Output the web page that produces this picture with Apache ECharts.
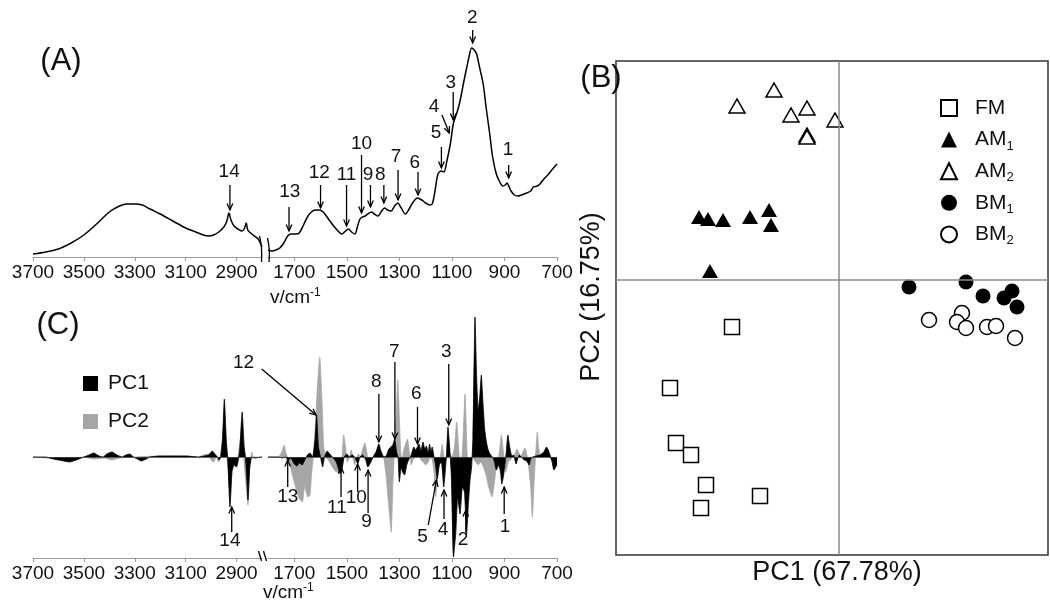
<!DOCTYPE html>
<html>
<head>
<meta charset="utf-8">
<script src="https://cdn.jsdelivr.net/npm/echarts@6/dist/echarts.min.js"></script>
<style>
html,body{margin:0;padding:0;background:#fff;}
#main{width:1050px;height:609px;}
</style>
</head>
<body>
<div id="main"></div>
<script>
// ---------- DATA ----------
const ticksLeft = [3700, 3500, 3300, 3100, 2900];
const ticksRight = [1700, 1500, 1300, 1100, 900, 700];

// (A) mean FTIR spectrum [wavenumber, absorbance (a.u.)]
const specLeft = [[3700,3],[3650,5],[3600,8],[3550,14],[3500,22],[3450,33],[3400,45],[3360,51],[3330,53],[3300,53],[3270,52],[3240,48],[3200,43],[3150,36],[3100,29],[3060,25],[3030,22],[3010,21],[2990,22],[2970,25],[2950,30],[2938,36],[2930,44],[2922,37],[2910,31],[2895,28],[2880,26],[2870,28],[2862,34],[2856,27],[2845,24],[2830,21],[2815,18],[2805,13],[2800,10]];
const specRight = [[1800,7],[1785,6],[1770,7],[1755,9],[1740,14],[1725,21],[1712,23],[1695,23],[1681,24],[1665,32],[1650,40],[1635,45],[1620,47],[1605,47],[1590,45],[1570,38],[1550,31],[1530,25],[1519,23],[1505,26],[1494,28],[1482,25],[1469,23],[1460,30],[1450,38],[1440,40],[1430,41],[1420,43],[1406,45],[1395,43],[1381,41],[1370,45],[1356,49],[1345,47],[1331,46],[1318,51],[1306,54],[1295,50],[1277,43],[1265,47],[1250,54],[1231,59],[1215,57],[1200,54],[1185,52],[1175,53],[1165,65],[1153,83],[1140,86],[1130,85],[1120,95],[1106,113],[1094,134],[1080,145],[1069,156],[1055,175],[1044,189],[1035,200],[1025,209],[1015,207],[1006,203],[995,190],[981,173],[970,150],[956,123],[945,100],[931,83],[918,75],[906,71],[897,72],[890,74],[882,70],[875,66],[862,62],[850,61],[835,62],[815,64],[800,66],[790,70],[775,71],[765,73],[750,78],[735,82],[720,87],[700,93]];

// (C) loadings [wavenumber, loading (a.u.)]
const pc1Left = [[3700,0],[3650,0],[3620,-2],[3580,-4],[3558,-5],[3530,-3],[3500,0],[3480,2],[3462,4],[3440,1],[3425,0],[3410,3],[3390,5],[3370,2],[3350,0],[3335,2],[3320,3],[3305,0],[3290,-2],[3274,-4],[3255,-2],[3240,0],[3200,1],[3100,1],[3050,0],[3010,2],[2995,6],[2985,3],[2975,0],[2968,-3],[2962,0],[2955,20],[2948,58],[2940,15],[2935,0],[2930,-30],[2926,-50],[2918,-15],[2910,-8],[2900,-10],[2893,-3],[2888,5],[2878,45],[2870,10],[2865,0],[2860,-20],[2855,-43],[2848,-10],[2840,0],[2830,-1],[2800,0]];
const pc2Left = [[3700,0],[3650,-1],[3600,-2],[3550,-1],[3500,0],[3460,-2],[3420,-1],[3390,-3],[3360,-1],[3300,0],[3200,1],[3100,1],[3050,0],[3030,2],[3010,3],[3000,-3],[2990,-5],[2980,0],[2970,-5],[2960,8],[2950,20],[2945,30],[2938,0],[2930,-20],[2925,-45],[2918,-10],[2905,-5],[2895,0],[2880,25],[2872,0],[2862,-30],[2855,-48],[2848,-10],[2840,5],[2835,0],[2800,0]];
const pc1Right = [[1800,0],[1760,0],[1745,-1],[1735,0],[1728,-2],[1723,-4],[1715,-1],[1708,-3],[1700,-7],[1690,-9],[1680,-6],[1670,-8],[1660,-3],[1650,2],[1640,4],[1630,0],[1620,20],[1615,42],[1608,10],[1600,0],[1592,-10],[1585,0],[1575,6],[1565,3],[1555,0],[1540,-5],[1525,-17],[1518,-12],[1510,0],[1500,3],[1490,0],[1480,2],[1470,0],[1458,-7],[1450,0],[1440,2],[1428,-3],[1420,-10],[1410,-6],[1400,0],[1390,4],[1378,13],[1370,6],[1360,0],[1350,1],[1340,8],[1325,12],[1318,18],[1310,4],[1305,0],[1300,-25],[1293,-10],[1288,-15],[1280,-18],[1272,-8],[1265,-3],[1255,2],[1245,10],[1238,7],[1225,13],[1218,6],[1210,15],[1203,8],[1197,11],[1190,4],[1185,13],[1180,5],[1175,10],[1168,0],[1162,-8],[1156,-22],[1148,-8],[1140,-5],[1131,-30],[1124,-10],[1120,5],[1115,30],[1108,8],[1102,-20],[1094,-100],[1085,-75],[1078,-40],[1069,-57],[1060,-30],[1052,-35],[1044,-77],[1038,-50],[1031,-23],[1025,-10],[1020,20],[1012,140],[1006,80],[1000,47],[994,60],[988,82],[982,55],[975,27],[968,14],[962,7],[955,3],[950,1],[945,0],[938,-5],[931,-13],[922,-8],[915,-15],[910,-27],[903,-18],[896,-2],[893,5],[887,22],[880,10],[872,1],[865,2],[860,-3],[856,-7],[850,-2],[843,2],[835,0],[825,-3],[815,-4],[806,-8],[800,-2],[793,0],[780,1],[765,2],[750,5],[740,10],[733,7],[725,0],[718,-5],[712,-13],[705,-10],[700,-8]];
const pc2Right = [[1800,0],[1760,0],[1748,5],[1738,12],[1732,4],[1725,0],[1718,-5],[1710,-15],[1700,-25],[1690,-35],[1680,-42],[1669,-45],[1660,-28],[1655,-35],[1648,-40],[1640,-38],[1635,-20],[1628,0],[1620,30],[1612,70],[1603,100],[1595,60],[1588,10],[1580,0],[1570,-3],[1555,-10],[1540,-15],[1525,-12],[1518,0],[1512,22],[1505,10],[1498,-5],[1490,0],[1483,7],[1476,-2],[1470,-8],[1462,0],[1456,3],[1448,0],[1440,8],[1431,14],[1424,5],[1418,-5],[1410,-3],[1400,0],[1392,5],[1385,3],[1378,8],[1370,5],[1360,0],[1350,-20],[1340,-50],[1331,-75],[1325,-30],[1318,10],[1312,40],[1306,77],[1300,40],[1295,5],[1290,-5],[1285,5],[1276,13],[1269,18],[1262,5],[1255,-8],[1248,-3],[1240,0],[1232,5],[1225,2],[1218,-3],[1210,-5],[1200,-8],[1190,-5],[1182,0],[1175,-3],[1168,-15],[1162,-40],[1156,-25],[1148,-5],[1141,5],[1137,13],[1132,3],[1125,-5],[1118,0],[1108,3],[1100,0],[1090,10],[1082,35],[1075,10],[1068,-10],[1060,5],[1050,63],[1043,10],[1038,-15],[1031,-5],[1025,0],[1015,-3],[1000,-8],[990,-5],[980,-10],[970,-18],[960,-30],[947,-40],[938,-25],[930,-8],[922,0],[915,15],[912,22],[906,10],[900,-5],[895,-15],[890,-10],[885,-5],[875,-2],[868,0],[860,3],[852,8],[845,4],[838,0],[830,5],[822,9],[815,3],[808,-10],[800,-30],[794,-60],[788,-30],[782,0],[778,15],[775,25],[770,10],[765,2],[755,0],[745,3],[735,5],[725,2],[715,-10],[712,-12],[705,-5],[700,-3]];

// (B) PCA scores [PC1, PC2]
const scoresFM  = [[-10.7,-4.7],[-16.9,-10.8],[-16.3,-16.3],[-14.8,-17.5],[-13.3,-20.5],[-7.9,-21.6],[-13.8,-22.8]];
const scoresAM1 = [[-14.0,6.3],[-13.1,6.1],[-11.6,6.0],[-8.9,6.3],[-7.0,7.0],[-6.8,5.5],[-12.9,0.9]];
const scoresAM2 = [[-6.5,19.0],[-10.2,17.4],[-4.8,16.5],[-3.2,17.2],[-0.4,16.0],[-3.2,14.5],[-3.2,14.3]];
const scoresBM1 = [[7.0,-0.7],[12.7,-0.2],[14.4,-1.6],[16.5,-1.8],[17.3,-1.1],[17.8,-2.7]];
const scoresBM2 = [[9.0,-4.0],[12.3,-3.3],[11.8,-4.2],[12.7,-4.8],[14.8,-4.7],[15.7,-4.6],[17.6,-5.8]];

// Band annotations: seg L/R, arrow tail (x1,y1) -> head (x2,y2), label (lx,ly), data units
const annA = [
  {t:'14', s:'L', x1:2926, y1:72, x2:2926, y2:47, lx:2929, ly:85},
  {t:'13', s:'R', x1:1720, y1:50, x2:1720, y2:26, lx:1717, ly:65},
  {t:'12', s:'R', x1:1600, y1:72, x2:1600, y2:49, lx:1605, ly:84},
  {t:'11', s:'R', x1:1501, y1:72, x2:1501, y2:31, lx:1501, ly:82},
  {t:'10', s:'R', x1:1444, y1:102, x2:1444, y2:44, lx:1444, ly:113},
  {t:'9',  s:'R', x1:1410, y1:72, x2:1410, y2:50, lx:1419, ly:82},
  {t:'8',  s:'R', x1:1359, y1:72, x2:1359, y2:54, lx:1373, ly:82},
  {t:'7',  s:'R', x1:1305, y1:87, x2:1305, y2:57, lx:1313, ly:100},
  {t:'6',  s:'R', x1:1229, y1:85, x2:1229, y2:62, lx:1241, ly:94},
  {t:'5',  s:'R', x1:1140, y1:110, x2:1140, y2:89, lx:1160, ly:124},
  {t:'4',  s:'R', x1:1138, y1:142, x2:1110, y2:124, lx:1168, ly:150},
  {t:'3',  s:'R', x1:1095, y1:165, x2:1095, y2:137, lx:1104, ly:174},
  {t:'2',  s:'R', x1:1021, y1:227, x2:1021, y2:214, lx:1022, ly:239},
  {t:'1',  s:'R', x1:884, y1:92, x2:884, y2:79, lx:886, ly:107}
];
const annC = [
  {t:'14', s:'L', x1:2919, y1:-75, x2:2919, y2:-50, lx:2926, ly:-84},
  {t:'13', s:'R', x1:1725, y1:-30, x2:1725, y2:-3, lx:1725, ly:-40},
  {t:'12', s:'R', x1:1824, y1:88, x2:1617, y2:42, lx:1893, ly:94},
  {t:'11', s:'R', x1:1522, y1:-40, x2:1522, y2:-10, lx:1538, ly:-51},
  {t:'10', s:'R', x1:1459, y1:-35, x2:1459, y2:-7, lx:1464, ly:-41},
  {t:'9',  s:'R', x1:1419, y1:-56, x2:1419, y2:-13, lx:1425, ly:-65},
  {t:'8',  s:'R', x1:1378, y1:63, x2:1378, y2:15, lx:1388, ly:75},
  {t:'7',  s:'R', x1:1317, y1:95, x2:1317, y2:18, lx:1319, ly:105},
  {t:'6',  s:'R', x1:1231, y1:50, x2:1231, y2:13, lx:1236, ly:63},
  {t:'3',  s:'R', x1:1112, y1:93, x2:1112, y2:32, lx:1121, ly:105},
  {t:'5',  s:'R', x1:1190, y1:-68, x2:1159, y2:-23, lx:1212, ly:-80},
  {t:'4',  s:'R', x1:1130, y1:-62, x2:1130, y2:-33, lx:1134, ly:-73},
  {t:'2',  s:'R', x1:1047, y1:-75, x2:1047, y2:-53, lx:1058, ly:-83},
  {t:'1',  s:'R', x1:901, y1:-57, x2:901, y2:-30, lx:898, ly:-70}
];

// ---------- CHART ----------
const FONT = "'Liberation Sans', Arial, sans-serif";
const AXC = '#9a9a9a';
const GRAY = '#a6a6a6';
const chart = echarts.init(document.getElementById('main'), null, {renderer: 'canvas'});

function wnAxis(gi, min, max, ticks) {
  return {
    type: 'value', gridIndex: gi, min: min, max: max, inverse: true,
    axisLine: {show: true, onZero: false, lineStyle: {color: AXC, width: 1}},
    axisTick: {show: true, customValues: ticks, length: 4, lineStyle: {color: AXC}},
    axisLabel: {customValues: ticks, formatter: v => String(v), fontSize: 19, color: '#111', margin: 6, fontFamily: FONT},
    splitLine: {show: false}
  };
}
function hiddenY(gi, min, max) {
  return {type: 'value', gridIndex: gi, min: min, max: max, show: false, splitLine: {show: false}};
}
function areaSeries(name, data, idx, color, z) {
  return {
    name: name, type: 'line', xAxisIndex: idx, yAxisIndex: idx, data: data,
    showSymbol: false, symbol: 'none', smooth: 0.15, silent: true, z: z,
    itemStyle: {color: color},
    lineStyle: {color: color, width: 0.8},
    areaStyle: {color: color, opacity: 1, origin: 0}
  };
}
const subFmt = n => '{g|}' + n.replace(/^([A-Z]+)(\d)$/, '$1{s|$2}');

const option = {
  backgroundColor: '#fff',
  animation: false,
  textStyle: {fontFamily: FONT},
  grid: [
    {left: 33, top: 10, width: 229, height: 247},
    {left: 268, top: 10, width: 289, height: 247},
    {left: 33, top: 300, width: 229, height: 258},
    {left: 268, top: 300, width: 289, height: 258},
    {left: 616, top: 61, width: 432, height: 494, show: true, borderColor: '#333', borderWidth: 1.5, backgroundColor: 'transparent'}
  ],
  xAxis: [
    wnAxis(0, 2800, 3700, ticksLeft),
    wnAxis(1, 700, 1800, ticksRight),
    wnAxis(2, 2800, 3700, ticksLeft),
    wnAxis(3, 700, 1800, ticksRight),
    {type: 'value', gridIndex: 4, min: -22.3, max: 20.9, show: false, splitLine: {show: false}}
  ],
  yAxis: [
    hiddenY(0, 0, 247), hiddenY(1, 0, 247),
    hiddenY(2, -101, 157), hiddenY(3, -101, 157),
    hiddenY(4, -27.5, 21.9)
  ],
  legend: [
    {
      data: ['PC1', 'PC2'], orient: 'vertical', left: 83, top: 372, padding: 0,
      itemWidth: 15, itemHeight: 15, itemGap: 15, icon: 'rect', selectedMode: false,
      formatter: n => '{g|}' + n,
      textStyle: {fontSize: 21, color: '#111', fontFamily: FONT, lineHeight: 23, rich: {g: {width: 5}}}
    },
    {
      data: ['FM', 'AM1', 'AM2', 'BM1', 'BM2'], orient: 'vertical', left: 940, top: 95, padding: 0,
      itemWidth: 16, itemHeight: 16, itemGap: 5.6, selectedMode: false,
      formatter: subFmt,
      textStyle: {fontSize: 21, color: '#111', fontFamily: FONT, lineHeight: 26,
        rich: {g: {width: 13}, s: {fontSize: 13, lineHeight: 13, verticalAlign: 'bottom', fontFamily: FONT, color: '#111'}}}
    }
  ],
  series: [
    {type: 'line', xAxisIndex: 0, yAxisIndex: 0, data: specLeft, showSymbol: false, symbol: 'none', smooth: 0.3, silent: true,
     lineStyle: {color: '#000', width: 1.5}},
    {type: 'line', xAxisIndex: 1, yAxisIndex: 1, data: specRight, showSymbol: false, symbol: 'none', smooth: 0.3, silent: true,
     lineStyle: {color: '#000', width: 1.5}},
    areaSeries('PC2', pc2Left, 2, GRAY, 2),
    Object.assign(areaSeries('PC1', pc1Left, 2, '#000', 3), {
      markLine: {silent: true, symbol: 'none', label: {show: false}, lineStyle: {color: '#444', width: 0.8, type: 'solid'}, data: [{yAxis: 0}]}
    }),
    areaSeries('PC2', pc2Right, 3, GRAY, 2),
    Object.assign(areaSeries('PC1', pc1Right, 3, '#000', 3), {
      markLine: {silent: true, symbol: 'none', label: {show: false}, lineStyle: {color: '#444', width: 0.8, type: 'solid'}, data: [{yAxis: 0}]}
    }),
    {type: 'scatter', xAxisIndex: 4, yAxisIndex: 4, data: [], z: 1, silent: true,
     markLine: {silent: true, symbol: 'none', label: {show: false}, lineStyle: {color: '#8c8c8c', width: 1.5, type: 'solid'},
       data: [{xAxis: 0}, {yAxis: 0}]}},
    {name: 'FM', type: 'scatter', xAxisIndex: 4, yAxisIndex: 4, data: scoresFM, symbol: 'rect', symbolSize: 15, z: 3,
     itemStyle: {color: '#fff', borderColor: '#000', borderWidth: 1.5, opacity: 1}},
    {name: 'AM1', type: 'scatter', xAxisIndex: 4, yAxisIndex: 4, data: scoresAM1, symbol: 'triangle', symbolSize: [16, 14], z: 3,
     itemStyle: {color: '#000', borderColor: '#000', borderWidth: 0, opacity: 1}},
    {name: 'AM2', type: 'scatter', xAxisIndex: 4, yAxisIndex: 4, data: scoresAM2, symbol: 'triangle', symbolSize: [16, 14], z: 3,
     itemStyle: {color: '#fff', borderColor: '#000', borderWidth: 1.5, opacity: 1}},
    {name: 'BM1', type: 'scatter', xAxisIndex: 4, yAxisIndex: 4, data: scoresBM1, symbol: 'circle', symbolSize: 15, z: 3,
     itemStyle: {color: '#000', borderColor: '#000', borderWidth: 0, opacity: 1}},
    {name: 'BM2', type: 'scatter', xAxisIndex: 4, yAxisIndex: 4, data: scoresBM2, symbol: 'circle', symbolSize: 15, z: 3,
     itemStyle: {color: '#fff', borderColor: '#000', borderWidth: 1.5, opacity: 1}}
  ],
  graphic: []
};
chart.setOption(option);

// ---------- annotations & static texts ----------
function txt(x, y, text, size, extra) {
  return Object.assign({type: 'text', x: x, y: y, silent: true, z: 50,
    style: {text: text, fontSize: size, fontFamily: FONT, fill: '#111', align: 'center', verticalAlign: 'middle'}}, extra || {});
}
function richTxt(x, y, text, rich) {
  return {type: 'text', x: x, y: y, silent: true, z: 50,
    style: {text: text, fontFamily: FONT, fill: '#111', align: 'left', verticalAlign: 'middle', rich: rich}};
}
const els = [];
function addAnn(list, gL, gR) {
  list.forEach(a => {
    const g = a.s === 'L' ? gL : gR;
    const p1 = chart.convertToPixel({gridIndex: g}, [a.x1, a.y1]);
    const p2 = chart.convertToPixel({gridIndex: g}, [a.x2, a.y2]);
    const pl = chart.convertToPixel({gridIndex: g}, [a.lx, a.ly]);
    els.push({type: 'line', silent: true, z: 50, shape: {x1: p1[0], y1: p1[1], x2: p2[0], y2: p2[1]},
      style: {stroke: '#000', lineWidth: 1.3}});
    const dx = p2[0] - p1[0], dy = p2[1] - p1[1];
    const L = Math.sqrt(dx * dx + dy * dy) || 1;
    const ux = dx / L, uy = dy / L;
    const h = 7, ang = 0.42;
    const c = Math.cos(ang), s = Math.sin(ang);
    const a1 = [p2[0] - h * (ux * c - uy * s), p2[1] - h * (uy * c + ux * s)];
    const a2 = [p2[0] - h * (ux * c + uy * s), p2[1] - h * (uy * c - ux * s)];
    els.push({type: 'polyline', silent: true, z: 50, shape: {points: [a1, p2, a2]},
      style: {stroke: '#000', lineWidth: 1.3, fill: null}});
    els.push(txt(pl[0], pl[1], a.t, 19));
  });
}
addAnn(annA, 0, 1);
addAnn(annC, 2, 3);

// panel letters
els.push(txt(61, 61, '(A)', 31));
els.push(txt(58, 325, '(C)', 31));
els.push(txt(601, 78, '(B)', 31));
// axis titles
const unitRich = {a: {fontSize: 19, fontFamily: FONT, fill: '#111', lineHeight: 22}, s: {fontSize: 12, fontFamily: FONT, fill: '#111', verticalAlign: 'top', lineHeight: 12}};
els.push(richTxt(270, 298, '{a|v/cm}{s|-1}', unitRich));
els.push(richTxt(263, 593, '{a|v/cm}{s|-1}', unitRich));
els.push(txt(837, 573, 'PC1 (67.78%)', 27));
els.push(txt(592, 297, 'PC2 (16.75%)', 27, {rotation: Math.PI / 2}));
// axis break marks
[[[259.5, 236], [261.5, 248], [261.5, 262]], [[267.5, 238], [269.3, 250], [269, 262]],
 [[258.5, 551], [261.5, 561]], [[263.5, 551], [266.5, 561]]].forEach(pts => {
  els.push({type: 'polyline', silent: true, z: 50, shape: {points: pts, smooth: 0.4},
    style: {stroke: '#000', lineWidth: 1.3, fill: null}});
});

chart.setOption({graphic: els});
</script>
</body>
</html>
